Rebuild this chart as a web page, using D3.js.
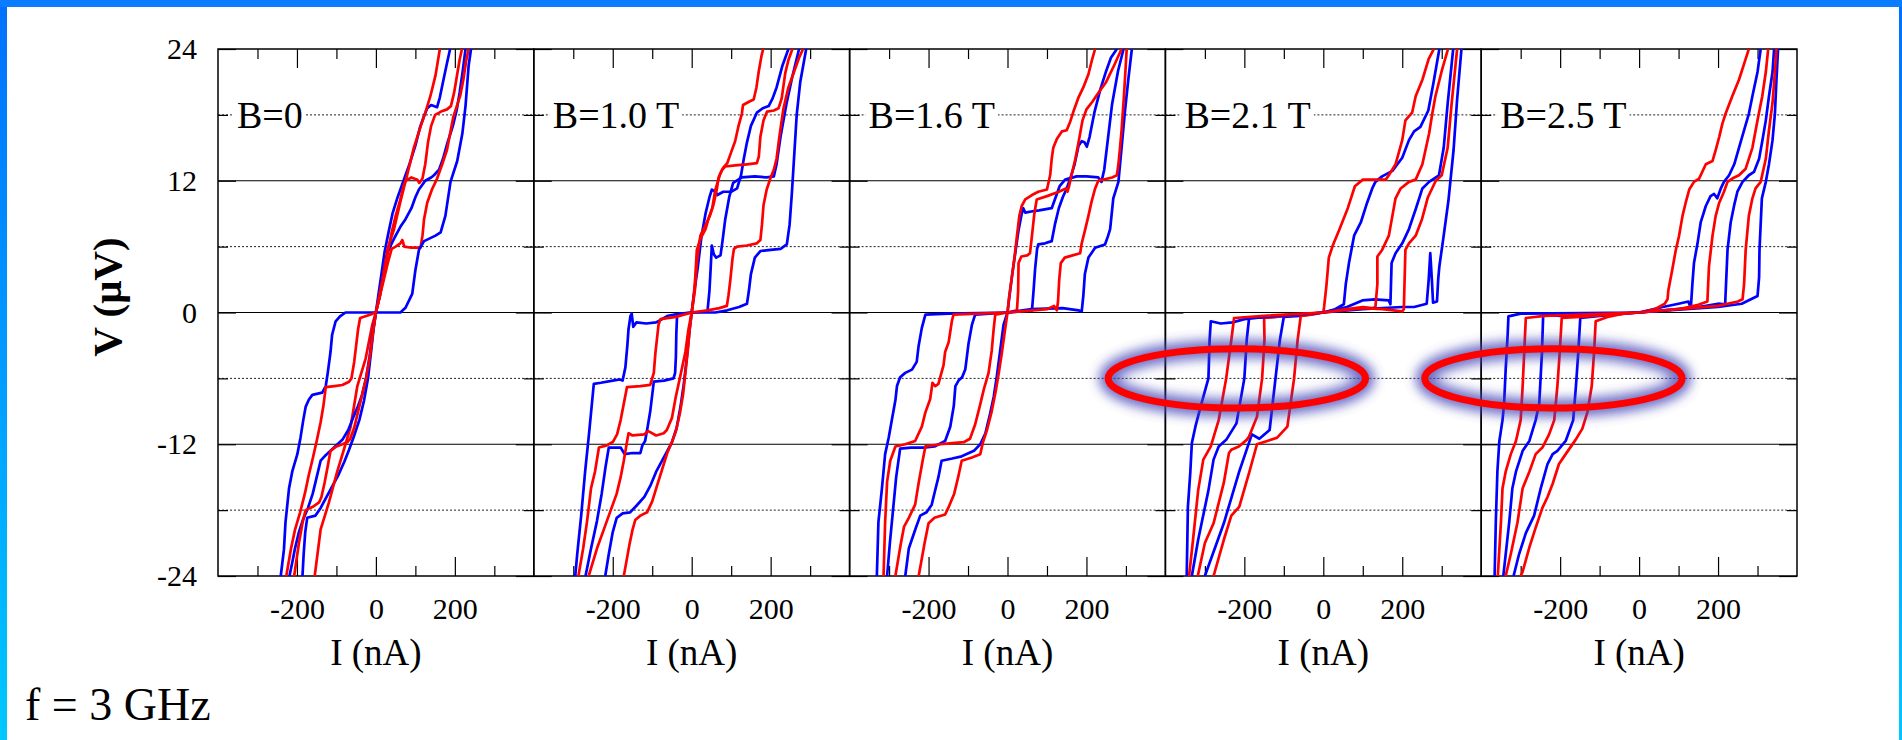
<!DOCTYPE html>
<html>
<head>
<meta charset="utf-8">
<script src="https://cdn.jsdelivr.net/npm/d3@7"></script>
<style>
  body { margin: 0; background: #fff; }
  svg { display: block; }
  text { font-family: "Liberation Serif", "Times New Roman", serif; fill: #000; }
</style>
</head>
<body>
<div id="chart"></div>
<script>
// field labels, one per panel
const fieldLabels = ["B=0", "B=1.0 T", "B=1.6 T", "B=2.1 T", "B=2.5 T"];

// tick values
const iTicksMajor = [-200, 0, 200];
const iTicksMinor = [-300, -100, 100, 300];
const vTicksMajor = [-24, -12, 0, 12, 24];
const vTicksMinor = [-18, -6, 6, 18];
const gridSolid = [-12, 0, 12];
const gridDotted = [-18, -6, 6, 18];

// I-V curves, [I (nA), V (uV)]
const blue_B0 = [
  [[-186,-24],[-183,-22],[-179,-20],[-174,-18.7],[-153,-18.5],[-140,-17.8],[-125,-16.8],[-110,-15.8],[-95,-14.8],[-80,-13.6],[-68,-12.5],[-55,-11.2],[-42,-9.8],[-30,-8],[-20,-6],[-12,-3.5],[-5,-1.2],[0,0],[6,1.5],[14,3.5],[22,5.5],[32,7.3],[42,9],[55,10.5],[70,12],[85,13.5],[100,15.2],[112,16.9],[122,17.9],[130,18.6],[140,18.9],[155,18.7],[162,19.6],[170,21],[180,22.7],[188,24]],
  [[-219,-24],[-212,-22.8],[-205,-21.5],[-195,-20],[-185,-18.9],[-172,-17.8],[-160,-16.5],[-150,-15],[-140,-13.5],[-130,-13.1],[-115,-12.6],[-100,-12.1],[-85,-11.6],[-70,-10.7],[-58,-9.6],[-45,-8.5],[-35,-7.5],[-25,-6],[-16,-4],[-8,-1.8],[0,0],[10,1.5],[20,3.5],[30,5.5],[40,6.3],[50,7],[62,7.8],[75,8.5],[90,9.5],[100,10.5],[109,11.2],[125,12],[140,12.3],[147,12.5],[160,13],[170,14],[180,15.3],[195,17],[205,18.5],[212,20],[220,22],[227,24]],
  [[-241,-24],[-233,-21.6],[-229,-19.1],[-220,-16],[-212,-14.5],[-199,-12.9],[-191,-11.4],[-184,-9.8],[-178,-8.6],[-170,-7.95],[-161,-7.5],[-136,-7.3],[-127,-6.7],[-122,-5.5],[-115,-3.6],[-111,-2.05],[-102,-0.8],[-91,-0.35],[-77,0],[0,0],[62,0],[75,0.43],[92,1.7],[100,3.85],[109,5.7],[122,6.5],[151,7],[164,7.3],[176,8.8],[189,11.9],[206,13.8],[219,16.3],[227,18.8],[235,22.5],[241,24]]
];
const red_B0 = [
  [[-155,-24],[-140,-19.75],[-119,-17.3],[-98,-14.5],[-77,-12],[-64,-10.4],[-47,-6.7],[-26,-4.2],[-9,-1.1],[0,0],[16,2.9],[29,5.7],[46,7.6],[62,10.1],[79,12.5],[96,15],[113,16.9],[126,18.3],[138,19.7],[151,21.6],[162,24]],
  [[-207,-24],[-195,-21],[-185,-19],[-178,-18],[-160,-17.7],[-144,-17.3],[-138,-16.8],[-130,-15.5],[-122,-14],[-115,-12.6],[-100,-12.2],[-85,-12],[-72,-11.8],[-65,-11.5],[-55,-10.5],[-45,-9],[-35,-7.5],[-25,-6],[-15,-4],[-8,-2],[0,0],[10,1.5],[20,3],[30,4.5],[40,5.8],[50,6],[62,6.3],[67,6.6],[72,6],[90,5.9],[113,5.9],[118,7],[122,8.5],[130,10],[142,11.2],[155,12.2],[168,13.5],[180,14.8],[188,16.3],[196,17.8],[205,18.8],[214,19.8],[222,21.3],[229,23],[235,24]],
  [[-227,-24],[-215,-21.5],[-205,-19.8],[-192,-18.2],[-180,-16.5],[-170,-14.8],[-160,-13.3],[-150,-11.7],[-140,-10],[-133,-8.5],[-127,-6.8],[-105,-6.7],[-85,-6.6],[-68,-6.3],[-62,-6],[-55,-4.5],[-50,-3],[-45,-1.5],[-40,-0.5],[-15,-0.2],[0,0],[10,1.5],[20,3.5],[30,5.5],[40,7.3],[50,8.8],[62,10.3],[70,11.5],[75,12],[90,12.3],[105,12.1],[110,11.8],[118,12.2],[125,13.5],[132,15.5],[140,17],[150,18],[165,18.3],[180,18.5],[190,18.8],[198,20],[205,21.5],[212,23],[218,24]]
];

const blue_B10 = [
  [[-219,-24],[-210,-22],[-200,-20],[-190,-18.7],[-175,-18.3],[-156,-18.2],[-140,-17.6],[-120,-16.8],[-105,-15.8],[-90,-14.5],[-75,-13.5],[-60,-12.5],[-50,-11.8],[-38,-10.5],[-28,-8.5],[-20,-6.5],[-12,-4],[-5,-1.5],[0,0],[5,1.5],[15,4],[25,7],[35,9],[45,10.5],[51,11.2],[60,11],[65,10.7],[80,11],[100,11],[115,11.3],[125,12.5],[132,14],[140,15.5],[150,17],[165,18.2],[180,18.6],[195,18.8],[205,19.5],[215,20.5],[230,22.5],[245,24]],
  [[-269,-24],[-255,-21.5],[-240,-19],[-228,-16.5],[-218,-14],[-210,-12.3],[-180,-12.3],[-170,-12.9],[-150,-12.8],[-130,-12.8],[-125,-12.1],[-118,-11.7],[-112,-10.5],[-105,-9],[-100,-7.5],[-96,-6.3],[-70,-6.2],[-46,-6],[-42,-5.5],[-40,-4],[-39,-2],[-37,-0.2],[-20,-0.1],[0,0],[40,0.1],[45,2],[48,4],[51,6.1],[56,5.3],[62,5],[73,5.2],[78,6.5],[85,8.5],[95,10.5],[105,11.8],[127,12.3],[160,12.4],[190,12.3],[208,12.4],[215,13.5],[225,16],[240,19],[255,21.5],[272,24]],
  [[-295,-24],[-290,-22],[-280,-18.5],[-270,-14.5],[-260,-11],[-252,-8],[-248,-6.5],[-230,-6.4],[-200,-6.2],[-182,-6.1],[-175,-6.2],[-168,-5],[-163,-3],[-160,-1.5],[-155,-0.3],[-152,-0.1],[-148,-1.3],[-140,-0.9],[-115,-1],[-90,-0.9],[-60,-0.3],[-30,-0.1],[0,0],[60,0],[90,0.2],[120,0.5],[140,0.8],[145,2],[150,3.5],[160,5],[174,5.6],[200,5.7],[225,5.8],[241,6.2],[248,8],[254,11],[260,14.5],[266,18],[275,21],[290,24]]
];
const red_B10 = [
  [[-172,-24],[-165,-22.6],[-158,-21.2],[-150,-19.8],[-143,-18.9],[-130,-18.5],[-113,-18.2],[-100,-17.2],[-88,-15.8],[-75,-14.3],[-62,-12.8],[-50,-11.8],[-40,-10.8],[-30,-9.2],[-22,-7.5],[-16,-5.5],[-10,-3.5],[-5,-1.5],[0,0],[5,1.4],[9,3.2],[13,5.7],[22,6.7],[35,7.6],[43,8.6],[52,9.5],[60,11.2],[72,12.6],[80,13.2],[90,13.6],[98,14.4],[110,15.6],[118,16.9],[127,18.1],[130,18.9],[145,19.2],[157,19.4],[164,20.5],[170,22],[177,23.4],[181,24]],
  [[-261,-24],[-240,-21.5],[-220,-19.5],[-205,-18],[-190,-16.5],[-180,-15],[-172,-13.5],[-165,-12],[-160,-11],[-150,-11.2],[-120,-11.1],[-110,-10.8],[-90,-11.2],[-71,-11],[-63,-10.7],[-50,-9.6],[-41,-7.8],[-29,-5.8],[-16,-3.6],[-8,-1.5],[0,0],[8,2],[13,4.5],[18,6],[22,7],[30,7.6],[38,8.2],[46,8.8],[55,9.8],[64,11.3],[68,12.3],[77,13],[85,13.3],[110,13.4],[140,13.5],[165,13.6],[170,14.2],[174,16],[182,17.5],[191,18.3],[208,18.4],[220,18.6],[228,19.5],[237,21.8],[245,23],[255,24]],
  [[-287,-24],[-275,-21.5],[-265,-19],[-255,-16],[-245,-14.5],[-235,-12.3],[-215,-12.1],[-200,-11.8],[-189,-11.1],[-180,-9.8],[-172,-8.3],[-164,-6.8],[-130,-6.7],[-105,-6.6],[-96,-5.5],[-92,-3.7],[-88,-2.4],[-84,-1.1],[-79,-0.6],[-40,-0.4],[0,0],[40,0.2],[70,0.4],[89,0.6],[93,1.5],[98,3],[103,4.8],[107,5.8],[115,6],[140,6.1],[165,6.3],[174,6.6],[178,8],[182,9.8],[190,11.2],[200,12.3],[208,13],[215,14],[222,16],[232,18.5],[245,20.5],[260,22],[272,23.2],[282,24]]
];

const blue_B16 = [
  [[-259,-24],[-250,-21.5],[-233,-19.7],[-221,-18.5],[-205,-18.2],[-192,-17.5],[-184,-16.3],[-175,-15],[-167,-13.5],[-140,-13.3],[-116,-13.1],[-85,-12.6],[-69,-12],[-56,-11],[-44,-9.2],[-35,-7.7],[-27,-5.8],[-19,-3.6],[-10,-1.1],[0,0],[5,1.5],[12,3.5],[20,5.5],[28,7.5],[36,9],[40,9.5],[45,9.1],[60,9.2],[80,9.3],[112,9.5],[122,10.5],[132,11.5],[146,12.1],[175,12.4],[200,12.4],[230,12.3],[238,11.9],[245,13],[255,16],[265,19],[280,22],[294,24]],
  [[-305,-24],[-298,-21],[-290,-18],[-282,-15],[-272,-12.4],[-245,-12.3],[-213,-12.3],[-185,-12.2],[-158,-11.7],[-145,-10.4],[-136,-8.5],[-132,-6.7],[-124,-6.2],[-115,-5.9],[-107,-5.2],[-99,-2.9],[-90,-1.1],[-82,-0.2],[0,0],[62,0.2],[66,2],[70,4],[75,5.8],[78,6.2],[95,6.3],[112,6.5],[120,8],[130,9.5],[140,10.5],[150,11.3],[160,12.3],[170,13.5],[180,15.2],[188,15.6],[195,15.5],[201,15.1],[208,16],[220,18.2],[235,20.3],[250,22],[262,23.2],[277,24]],
  [[-331,-24],[-327,-19.1],[-318,-16],[-310,-12.9],[-301,-11.4],[-293,-9.8],[-284,-8],[-280,-6.7],[-272,-5.9],[-259,-5.5],[-242,-5.2],[-230,-4.5],[-225,-3],[-217,-1.4],[-208,-0.2],[-150,-0.1],[0,0],[60,0.3],[140,0.4],[180,0.2],[188,0.1],[192,1.5],[196,3.5],[205,5],[222,5.9],[247,6.2],[255,7],[260,7.6],[268,10.4],[281,11.9],[289,15],[298,18.5],[306,21.2],[315,24]]
];
const red_B16 = [
  [[-225,-24],[-210,-21],[-200,-19.2],[-185,-18.7],[-158,-18.4],[-150,-17.8],[-135,-16.5],[-125,-15],[-116,-13.5],[-90,-13.2],[-69,-12.9],[-62,-11.8],[-52,-10.7],[-40,-9],[-30,-7.2],[-22,-5.5],[-14,-3.6],[-6,-1.5],[0,0],[4,1.4],[11,3.2],[18,5.1],[24,7],[30,8.8],[36,9.7],[45,10.3],[62,10.7],[78,11],[100,11.2],[108,12.5],[112,14],[116,15],[125,15.8],[138,16.5],[150,16.6],[159,17.4],[167,18.3],[180,19.6],[192,20.5],[205,21.7],[214,23],[222,24]],
  [[-284,-24],[-270,-21],[-262,-19.5],[-250,-18.7],[-234,-17.5],[-225,-15.5],[-215,-13.5],[-208,-12.2],[-170,-12],[-140,-11.9],[-110,-11.8],[-95,-11.5],[-82,-10.2],[-70,-8.5],[-60,-7],[-48,-5.5],[-40,-3.5],[-35,-1.5],[-31,-0.2],[0,0],[24,0.2],[27,2],[28,4.5],[35,5.1],[50,5.2],[57,5.4],[62,7],[68,9],[74,10.3],[100,10.6],[130,11],[148,11.3],[152,11],[156,11.5],[162,12.5],[172,14],[180,15.5],[190,17.5],[200,18.5],[215,19.2],[230,20],[250,21],[270,22.5],[289,24]],
  [[-314,-24],[-310,-19.1],[-305,-15.4],[-297,-13.5],[-284,-12.2],[-259,-12],[-234,-11.7],[-217,-10.4],[-208,-9.1],[-196,-7.9],[-190,-6.4],[-183,-6.7],[-175,-6.5],[-162,-4.8],[-158,-3.6],[-149,-2.7],[-141,-0.8],[-137,-0.2],[0,0],[100,0.3],[118,0.6],[125,0.2],[128,1],[131,3],[135,4.5],[145,5],[165,5.2],[184,5.4],[188,6.3],[197,7.6],[205,8.8],[213,10.1],[222,11.3],[230,12],[265,12.3],[277,12.5],[281,13.5],[285,15],[289,16.6],[295,19.7],[302,24]]
];

const blue_B21 = [
  [[-300,-24],[-252,-19.2],[-214,-14.6],[-181,-11.1],[-162,-11.5],[-136,-10.7],[-110,-2.5],[-100,-0.4],[-60,-0.3],[0,0],[30,0.3],[52,0.75],[57,2.6],[65,4.5],[78,7],[95,8.2],[111,10],[124,11.3],[132,11.9],[149,12.4],[175,12.9],[200,14.1],[217,15.7],[230,16.5],[246,16.9],[266,18.4],[279,20.9],[294,24]],
  [[-333,-24],[-317,-20.7],[-291,-16.2],[-278,-13.4],[-265,-12.2],[-246,-11.6],[-220,-10.1],[-200,-6],[-194,-2.5],[-188,-0.5],[-120,-0.4],[0,0],[60,0.5],[99,1.1],[130,1.2],[166,1.1],[170,0.75],[173,4.5],[183,5.4],[200,6.3],[217,7.6],[234,9.4],[251,11.3],[268,11.9],[293,12.5],[305,15],[315,19],[329,24]],
  [[-346,-24],[-343,-17.7],[-337,-14.6],[-333,-11.9],[-324,-10.4],[-311,-8.6],[-291,-6],[-288,-2.5],[-285,-0.8],[-260,-1],[-230,-0.9],[-200,-0.6],[-120,-0.3],[0,0],[100,0.3],[200,0.5],[230,0.5],[262,0.8],[267,3],[271,5.4],[275,3],[278,0.9],[288,1],[291,3],[294,4.2],[305,7],[317,10.2],[330,14.8],[339,19.4],[350,24]]
];
const red_B21 = [
  [[-278,-24],[-252,-20.7],[-233,-18.5],[-213,-17.7],[-188,-14.6],[-168,-12],[-142,-11.7],[-117,-11.4],[-91,-10.4],[-74,-6],[-65,-2.5],[-57,-0.3],[-30,-0.2],[0,0],[2,0.5],[8,2.5],[14,5],[25,6.2],[40,7.5],[62,9.5],[80,11.5],[100,12.1],[158,12.1],[166,12.5],[183,13.5],[200,15.7],[208,17.5],[225,18.2],[234,19.7],[251,21.2],[267,23.1],[280,24]],
  [[-318,-24],[-300,-21],[-278,-19.2],[-252,-15.5],[-239,-12.8],[-233,-12.5],[-214,-12.2],[-194,-11.6],[-188,-11.3],[-168,-9.5],[-155,-6],[-149,-2.5],[-150,-0.5],[-100,-0.3],[0,0],[60,0.3],[100,0.5],[125,0.4],[132,0.5],[137,2.6],[137,5.1],[149,5.7],[166,7],[175,8.8],[183,10.4],[196,11.3],[217,11.9],[234,12.1],[251,13.5],[268,16.3],[276,18.1],[284,19.7],[300,22],[316,24]],
  [[-340,-24],[-330,-20.7],[-317,-16.2],[-304,-13.4],[-285,-12.2],[-265,-9.8],[-246,-6],[-233,-2.5],[-226,-0.5],[-150,-0.3],[0,0],[100,0.4],[150,0.3],[200,0.1],[204,0.3],[208,5.7],[217,6.3],[234,7],[250,8.5],[265,10.5],[285,12],[300,12.5],[315,15],[325,19],[339,24]]
];

const blue_B25 = [
  [[-318,-24],[-304,-22],[-287,-20.1],[-266,-18.5],[-249,-16],[-232,-13.8],[-219,-12.9],[-207,-12.6],[-186,-11.7],[-167,-9.8],[-160,-6.7],[-154,-3.6],[-149,-0.5],[-100,-0.3],[0,0],[60,0.5],[100,0.8],[125,1],[131,0.4],[135,2.6],[139,4.5],[148,6.3],[156,8.2],[169,9.7],[181,10.6],[190,10.8],[198,10.4],[207,11.3],[215,11.9],[228,12.5],[241,13.5],[253,15],[266,16.6],[278,18.1],[287,19.7],[300,21.9],[308,24]],
  [[-344,-24],[-329,-19.1],[-321,-16],[-312,-14.5],[-295,-12.6],[-278,-11.7],[-262,-9.8],[-253,-8.3],[-246,-3.6],[-243,-0.2],[-200,-0.3],[0,0],[150,0.5],[200,0.8],[218,0.75],[224,5.7],[232,8.2],[241,9.8],[249,11],[262,11.9],[278,12.5],[291,12.8],[304,14],[312,15.6],[321,17.5],[329,19.7],[338,21.9],[342,24]],
  [[-366,-24],[-363,-19.1],[-359,-14.5],[-354,-11.7],[-346,-9.8],[-342,-8.3],[-338,-5.2],[-333,-2.05],[-331,-0.35],[-300,-0.1],[0,0],[200,0.5],[260,0.8],[300,1.5],[304,3.2],[305,5.7],[311,10.4],[321,11.9],[329,13.5],[338,15.7],[344,18.1],[348,21.2],[352,24]]
];
const red_B25 = [
  [[-300,-24],[-295,-23.6],[-278,-21.4],[-262,-19.6],[-245,-17.8],[-232,-16.8],[-219,-15.6],[-203,-13.8],[-186,-12.9],[-161,-11.6],[-144,-10.6],[-131,-9.1],[-120,-6.7],[-114,-3.6],[-110,-0.8],[-80,-0.4],[-40,-0.1],[0,0],[40,0.3],[65,0.8],[72,1.2],[74,2],[84,3.9],[93,5.7],[101,6.95],[110,8.8],[118,10],[127,11.2],[139,11.9],[152,12.2],[169,13.5],[186,13.8],[194,14.8],[203,16],[211,17.2],[219,18.1],[236,19.7],[253,21.2],[270,23.1],[278,24]],
  [[-338,-24],[-325,-22],[-308,-19.1],[-295,-16],[-278,-14.5],[-262,-12.9],[-245,-12.3],[-228,-11.1],[-215,-9.8],[-207,-6.7],[-201,-3.6],[-196,-0.5],[-150,-0.4],[0,0],[100,0.3],[150,0.7],[173,1],[177,4.2],[186,7],[194,8.8],[203,10],[215,11],[224,11.9],[236,12.2],[253,12.5],[270,13.1],[287,15],[300,17.5],[312,19.7],[321,21.9],[327,24]],
  [[-358,-24],[-350,-19.1],[-346,-16],[-338,-14.5],[-325,-12.9],[-312,-11.7],[-300,-9.8],[-295,-6.7],[-291,-3.6],[-287,-0.5],[-240,-0.3],[0,0],[200,0.6],[250,1],[262,1.2],[266,2.6],[270,5.7],[278,8.8],[287,10.4],[295,11.3],[308,11.9],[321,14],[329,16.6],[338,19.1],[344,21.9],[348,24]]
];

// highlighted rings: panel index, I centre, V centre, I half-width, V half-height
const rings = [
  [3, -219, -6, 326, 2.7],
  [4, -217, -6, 326, 2.7]
];

const panels = [
  { label: fieldLabels[0], blue: blue_B0, red: red_B0 },
  { label: fieldLabels[1], blue: blue_B10, red: red_B10 },
  { label: fieldLabels[2], blue: blue_B16, red: red_B16 },
  { label: fieldLabels[3], blue: blue_B21, red: red_B21 },
  { label: fieldLabels[4], blue: blue_B25, red: red_B25 }
];

const W = 1902, H = 740;
const plotLeft = 218, panelW = 315.8, plotTop = 49, plotBottom = 576;

const svg = d3.select("#chart").append("svg").attr("width", W).attr("height", H);
const defs = svg.append("defs");

// slide frame
const edge = defs.append("linearGradient").attr("id", "edge")
  .attr("x1", 0).attr("y1", 0).attr("x2", 0).attr("y2", 1);
edge.append("stop").attr("offset", "0%").attr("stop-color", "#0070ff");
edge.append("stop").attr("offset", "100%").attr("stop-color", "#00c8ff");
svg.append("rect").attr("x", 0).attr("y", 0).attr("width", 7).attr("height", H).attr("fill", "url(#edge)");
svg.append("rect").attr("x", W - 3).attr("y", 0).attr("width", 3).attr("height", H).attr("fill", "url(#edge)");
svg.append("rect").attr("x", 0).attr("y", 0).attr("width", W).attr("height", 7).attr("fill", "#0a7cff");

const y = d3.scaleLinear().domain([-24, 24]).range([plotBottom, plotTop]);
const line = (x) => d3.line().x(d => x(d[0])).y(d => y(d[1]));
const xScales = [];

var addAxis = (g, axis, tx, ty) => {
  const a = g.append("g").attr("transform", `translate(${tx},${ty})`).call(axis);
  a.select(".domain").remove();
  a.attr("font-size", null).attr("font-family", null);
  a.selectAll("line").attr("stroke", "#000").attr("stroke-width", 1.2);
  a.selectAll("text").style("font-size", "30px");
  return a;
};

panels.forEach((p, i) => {
  const x0 = plotLeft + i * panelW;
  const x = d3.scaleLinear().domain([-400, 400]).range([x0, x0 + panelW]);
  xScales.push(x);
  const g = svg.append("g");

  defs.append("clipPath").attr("id", "clip" + i).append("rect")
    .attr("x", x0).attr("y", plotTop).attr("width", panelW).attr("height", plotBottom - plotTop);

  // grid
  g.selectAll(".gs").data(gridSolid).join("line")
    .attr("x1", x0).attr("x2", x0 + panelW)
    .attr("y1", d => y(d)).attr("y2", d => y(d))
    .attr("stroke", "#000").attr("stroke-width", 1.2);
  g.selectAll(".gd").data(gridDotted).join("line")
    .attr("x1", x0).attr("x2", x0 + panelW)
    .attr("y1", d => y(d)).attr("y2", d => y(d))
    .attr("stroke", "#222").attr("stroke-width", 1).attr("stroke-dasharray", "2,2");

  // ticks
  addAxis(g, d3.axisBottom(x).tickValues(iTicksMajor).tickSize(-19).tickPadding(22).tickFormat(d => String(d)), 0, plotBottom);
  addAxis(g, d3.axisBottom(x).tickValues(iTicksMinor).tickSize(-10).tickFormat(""), 0, plotBottom);
  addAxis(g, d3.axisTop(x).tickValues(iTicksMajor).tickSize(-19).tickFormat(""), 0, plotTop);
  addAxis(g, d3.axisTop(x).tickValues(iTicksMinor).tickSize(-10).tickFormat(""), 0, plotTop);
  addAxis(g, d3.axisLeft(y).tickValues(vTicksMajor).tickSize(-18).tickPadding(21)
    .tickFormat(i === 0 ? (d => String(d)) : ""), x0, 0);
  addAxis(g, d3.axisLeft(y).tickValues(vTicksMinor).tickSize(-10).tickFormat(""), x0, 0);
  addAxis(g, d3.axisRight(y).tickValues(vTicksMajor).tickSize(-18).tickFormat(""), x0 + panelW, 0);
  addAxis(g, d3.axisRight(y).tickValues(vTicksMinor).tickSize(-10).tickFormat(""), x0 + panelW, 0);

  // frame
  g.append("rect").attr("x", x0).attr("y", plotTop).attr("width", panelW).attr("height", plotBottom - plotTop)
    .attr("fill", "none").attr("stroke", "#000").attr("stroke-width", 1.5);

  // field label with white box over the grid
  const box = g.append("rect").attr("fill", "#fff");
  const t = g.append("text").attr("x", x0 + 19).attr("y", 128)
    .style("font-size", "38px").text(p.label);
  const bb = t.node().getBBox();
  box.attr("x", bb.x - 3).attr("y", bb.y).attr("width", bb.width + 6).attr("height", bb.height);

  // axis title
  g.append("text").attr("x", x(0)).attr("y", 665).attr("text-anchor", "middle")
    .style("font-size", "37px").text("I (nA)");

  // curves
  const cg = g.append("g").attr("clip-path", `url(#clip${i})`);
  [0, 1, 2].forEach(k => {
    cg.append("path").attr("d", line(x)(p.blue[k]))
      .attr("fill", "none").attr("stroke", "#0000ff").attr("stroke-width", 2.7)
      .attr("stroke-linejoin", "round");
    cg.append("path").attr("d", line(x)(p.red[k]))
      .attr("fill", "none").attr("stroke", "#ff0000").attr("stroke-width", 2.7)
      .attr("stroke-linejoin", "round");
  });
});

// V axis title
svg.append("text").attr("transform", "translate(107,297) rotate(-90)")
  .attr("text-anchor", "middle").attr("dominant-baseline", "central")
  .style("font-size", "41px").style("font-weight", "bold").text("V (\u03bcV)");

svg.append("text").attr("x", 25).attr("y", 720).style("font-size", "46px").text("f = 3 GHz");

// glowing rings
const glow = defs.append("filter").attr("id", "glow")
  .attr("x", "-30%").attr("y", "-100%").attr("width", "160%").attr("height", "300%");
glow.append("feGaussianBlur").attr("stdDeviation", 6);

rings.forEach(r => {
  const x = xScales[r[0]];
  const cx = x(r[1]), cy = y(r[2]);
  const rx = x(r[1] + r[3]) - cx, ry = y(r[2] - r[4]) - cy;
  svg.append("ellipse").attr("cx", cx).attr("cy", cy).attr("rx", rx).attr("ry", ry)
    .attr("fill", "none").attr("stroke", "#4646b8").attr("stroke-width", 18)
    .attr("opacity", 0.8).attr("filter", "url(#glow)");
  svg.append("ellipse").attr("cx", cx).attr("cy", cy).attr("rx", rx).attr("ry", ry)
    .attr("fill", "none").attr("stroke", "#ff0000").attr("stroke-width", 7);
});
</script>
</body>
</html>
